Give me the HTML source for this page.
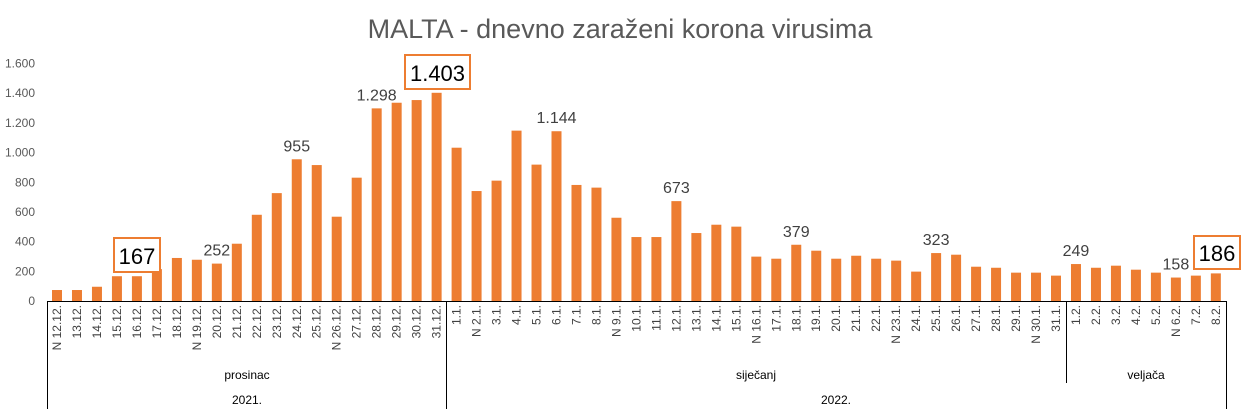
<!DOCTYPE html>
<html><head><meta charset="utf-8"><style>body{margin:0;background:#fff}svg{display:block}</style></head>
<body>
<svg id="s" width="1241" height="411" xmlns="http://www.w3.org/2000/svg" font-family="Liberation Sans, sans-serif">
<rect width="1241" height="411" fill="#fff"/>
<text x="620" y="38" text-anchor="middle" font-size="27" fill="#595959">MALTA - dnevno zaraženi korona virusima</text>
<g id="g"></g>
</svg>
<script>
const vals=[74,74,96,167,167,215,290,278,252,386,581,727,955,916,568,831,1298,1336,1354,1403,
1033,741,811,1148,919,1144,782,764,561,431,431,673,458,514,501,299,285,379,339,285,305,285,272,198,323,312,231,224,191,191,171,
249,224,238,211,191,158,171,186];
const labs=[];
for(let d=12;d<=31;d++)labs.push(d+".12.");
for(let d=1;d<=31;d++)labs.push(d+".1.");
for(let d=1;d<=8;d++)labs.push(d+".2.");
const sundays=new Set(["12.12.","19.12.","26.12.","2.1.","9.1.","16.1.","23.1.","30.1.","6.2."]);
const Y0=301,K=0.1484,X0=57,DX=19.98;
let h='';
for(let v=0;v<=1600;v+=200){const y=Y0-v*K;h+=`<text x="35" y="${y+4}" text-anchor="end" font-size="12" fill="#595959">${v>=1000?(v/1000|0)+'.'+String(v%1000).padStart(3,'0'):v}</text>`;}
const fmt=v=>v>=1000?(v/1000|0)+'.'+String(v%1000).padStart(3,'0'):''+v;
vals.forEach((v,i)=>{const cx=X0+i*DX,t=Y0-v*K;
h+=`<rect x="${cx-5}" y="${t}" width="10" height="${Y0-t}" fill="#ED7D31"/>`;
const l=(sundays.has(labs[i])?'N ':'')+labs[i];
h+=`<text transform="translate(${cx+4},305) rotate(-90)" text-anchor="end" font-size="12" fill="#404040">${l}</text>`;
});
[8,12,16,25,31,37,44,51,56].forEach(i=>{const cx=X0+i*DX,t=Y0-vals[i]*K;
h+=`<text x="${cx}" y="${t-8}" text-anchor="middle" font-size="16" fill="#404040">${fmt(vals[i])}</text>`;});
h+=`<rect x="114" y="238" width="46" height="34" fill="#fff" stroke="#ED7D31" stroke-width="2"/><text x="137" y="264" text-anchor="middle" font-size="22" fill="#000">167</text>`;
h+=`<rect x="405" y="55" width="65" height="34" fill="#fff" stroke="#ED7D31" stroke-width="2"/><text x="437.5" y="81" text-anchor="middle" font-size="22" fill="#000">1.403</text>`;
h+=`<rect x="1194" y="236" width="46" height="33" fill="#fff" stroke="#ED7D31" stroke-width="2"/><text x="1217" y="261" text-anchor="middle" font-size="22" fill="#000">186</text>`;
h+=`<g stroke="#000" stroke-width="1"><line x1="47" y1="301.5" x2="1227" y2="301.5"/><line x1="47.5" y1="301" x2="47.5" y2="409"/><line x1="446.5" y1="301" x2="446.5" y2="409"/><line x1="1066.5" y1="301" x2="1066.5" y2="383"/><line x1="1226.5" y1="301" x2="1226.5" y2="409"/></g>`;
h+=`<g font-size="12" fill="#000" text-anchor="middle"><text x="247" y="379">prosinac</text><text x="756" y="379">siječanj</text><text x="1146" y="379">veljača</text><text x="247" y="404">2021.</text><text x="836" y="404">2022.</text></g>`;
document.getElementById('g').innerHTML=h;
</script>
</body></html>
